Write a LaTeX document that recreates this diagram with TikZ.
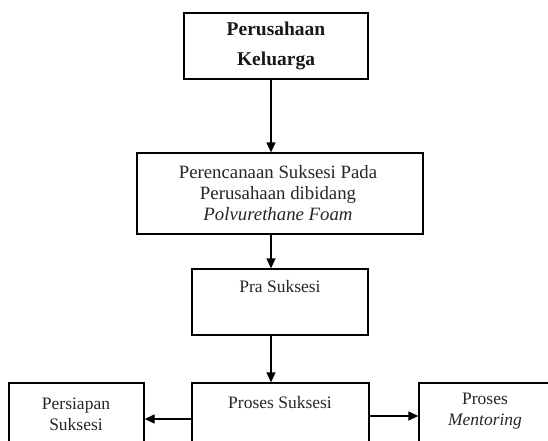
\documentclass[tikz,border=0pt]{standalone}
\usepackage{fontspec}
\setmainfont{Liberation Serif}
\usetikzlibrary{arrows.meta}
\begin{document}
\begin{tikzpicture}[x=1pt,y=-1pt,
  boxshape/.style={draw=black,line width=1.3pt,inner sep=0pt,fill=white},
  txt/.style={inner sep=0pt,align=center,font=\fontsize{17.5}{21}\selectfont,text=black!85},
  wtxt/.style={txt,font=\fontsize{18.8}{21}\selectfont},
  btxt/.style={inner sep=0pt,align=center,font=\fontsize{19.5}{30}\selectfont\bfseries,text=black!90},
  arr/.style={line width=1.3pt,-{Triangle[length=10pt,width=9pt]}}]
\clip (0,0) rectangle (548,441);
\useasboundingbox (0,0) rectangle (548,441);
% boxes
\node[boxshape,minimum width=184pt,minimum height=66pt] (b1) at (276,46) {};
\node[boxshape,minimum width=286pt,minimum height=81pt] (b2) at (280,193.5) {};
\node[boxshape,minimum width=176pt,minimum height=66pt] (b3) at (280,302) {};
\node[boxshape,minimum width=177pt,minimum height=107pt] (b4) at (280.5,436.5) {};
\node[boxshape,minimum width=135pt,minimum height=107pt] (b5) at (76.5,436.5) {};
\node[boxshape,minimum width=160pt,minimum height=107pt] (b6) at (499,436.5) {};
% texts
\node[btxt] (t1) at (276,46) {Perusahaan\\Keluarga};
\node[wtxt] (t2) at (278,193) {Perencanaan Suksesi Pada\\Perusahaan dibidang\\\textit{Polvurethane Foam}};
\node[txt] (t3) at (280,287) {Pra Suksesi};
\node[txt] (t4) at (280,403) {Proses Suksesi};
\node[txt] (t5) at (76,414) {Persiapan\\Suksesi};
\node[txt] (t6) at (485,411) {Proses\\\textit{Mentoring}};
% connectors
\coordinate (ax) at (271,0);
\draw[arr] (b1.south -| ax) -- (b2.north -| ax);
\draw[arr] (b2.south -| ax) -- (b3.north -| ax);
\draw[arr] (b3.south -| ax) -- (b4.north -| ax);
\coordinate (ly) at (0,419);
\coordinate (ry) at (0,416);
\draw[arr] (b4.west |- ly) -- (b5.east |- ly);
\draw[arr] (b4.east |- ry) -- (b6.west |- ry);
\end{tikzpicture}
\end{document}
